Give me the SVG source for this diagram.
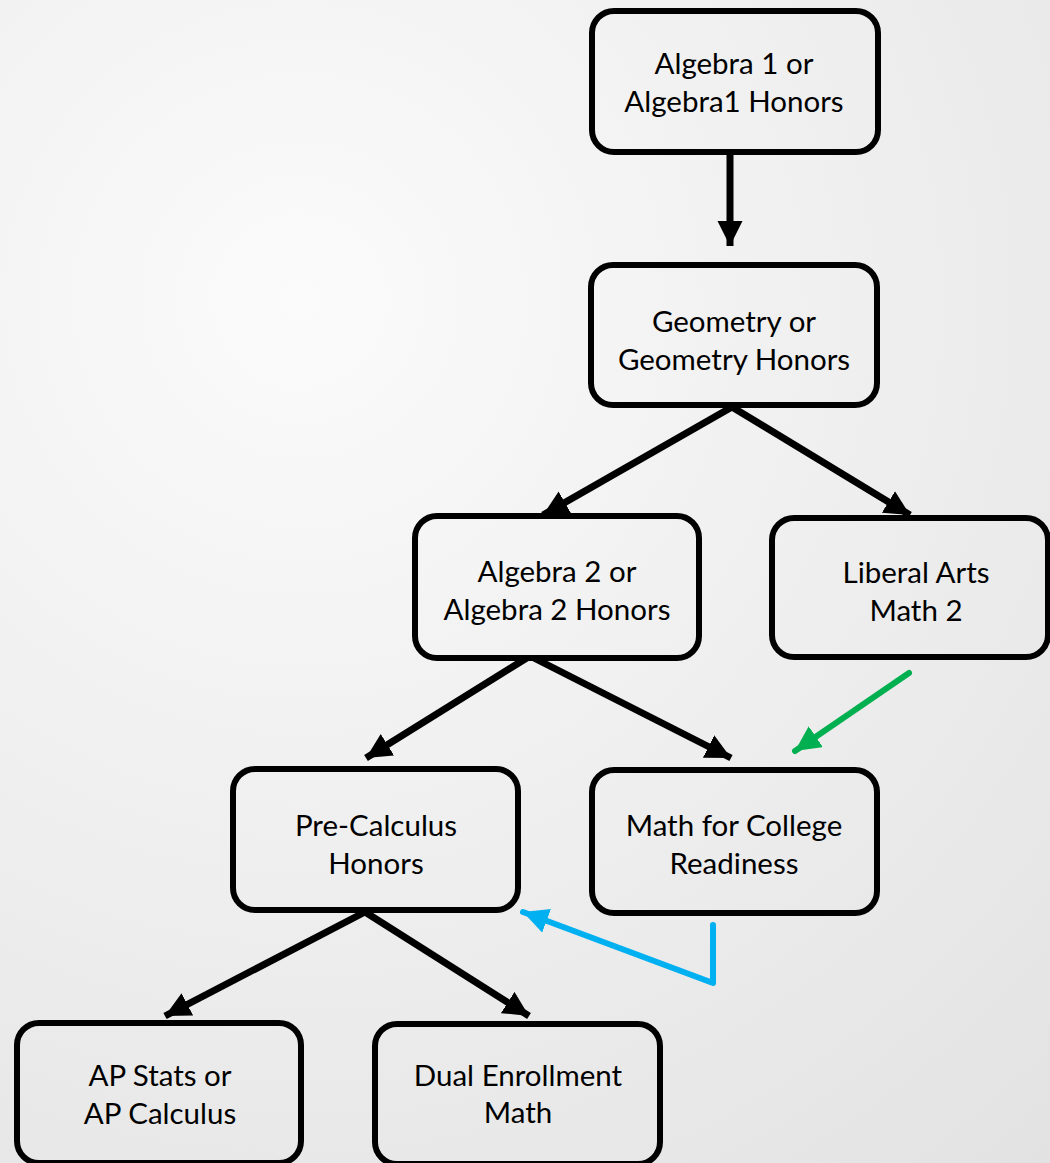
<svg xmlns="http://www.w3.org/2000/svg" width="1050" height="1163" viewBox="0 0 1050 1163">
<defs>
<radialGradient id="bg" gradientUnits="userSpaceOnUse" cx="300" cy="300" r="1200">
<stop offset="0" stop-color="#fbfbfb"/>
<stop offset="1" stop-color="#e1e1e1"/>
</radialGradient>
<marker id="ah" viewBox="0 0 10 10" refX="10" refY="5" markerWidth="3.6" markerHeight="3.8" orient="auto" markerUnits="strokeWidth">
<path d="M0,0 L10,5 L0,10 Z" fill="#000"/>
</marker>
<marker id="ahg" viewBox="0 0 10 10" refX="10" refY="5" markerWidth="4.2" markerHeight="4.2" orient="auto" markerUnits="strokeWidth">
<path d="M0,0 L10,5 L0,10 Z" fill="#00b050"/>
</marker>
<marker id="ahb" viewBox="0 0 10 10" refX="10" refY="5" markerWidth="4.2" markerHeight="4.2" orient="auto" markerUnits="strokeWidth">
<path d="M0,0 L10,5 L0,10 Z" fill="#00b0f0"/>
</marker>
</defs>
<style>
.box{fill:url(#bg);stroke:#000;stroke-width:6}
.lbl{font-family:Lato,"Open Sans","Liberation Sans",sans-serif;font-size:29.5px;fill:#000;text-anchor:middle}
.k{stroke:#000;stroke-width:7;fill:none;marker-end:url(#ah)}
.g{stroke:#00b050;stroke-width:6;fill:none;stroke-linecap:round;marker-end:url(#ahg)}
.b{stroke:#00b0f0;stroke-width:6;fill:none;stroke-linecap:round;stroke-linejoin:round;marker-end:url(#ahb)}
</style>
<rect x="0" y="0" width="1050" height="1163" fill="url(#bg)"/>
<g id="connectors">
<line class="k" x1="730" y1="155" x2="730" y2="246"/>
<line class="k" x1="732" y1="407" x2="543" y2="515"/>
<line class="k" x1="732" y1="407" x2="910" y2="515"/>
<line class="k" x1="530" y1="656" x2="366" y2="758"/>
<line class="k" x1="530" y1="656" x2="731" y2="758"/>
<line class="k" x1="365" y1="912" x2="165" y2="1016"/>
<line class="k" x1="365" y1="912" x2="529" y2="1016"/>
<line class="g" x1="909" y1="673" x2="795" y2="751"/>
<polyline class="b" points="713,925 713,983 523,912"/>
</g>
<g id="n-algebra1">
<rect class="box" x="592" y="11" width="286" height="141" rx="22"/>
<text class="lbl" x="734" y="74">Algebra 1 or</text>
<text class="lbl" x="734" y="112">Algebra1 Honors</text>
</g>
<g id="n-geometry">
<rect class="box" x="591" y="265" width="286" height="140" rx="22"/>
<text class="lbl" x="734" y="332">Geometry or</text>
<text class="lbl" x="734" y="370">Geometry Honors</text>
</g>
<g id="n-algebra2">
<rect class="box" x="415" y="516" width="284" height="142" rx="22"/>
<text class="lbl" x="557" y="582">Algebra 2 or</text>
<text class="lbl" x="557" y="620">Algebra 2 Honors</text>
</g>
<g id="n-liberal">
<rect class="box" x="772" y="518" width="276" height="139" rx="22"/>
<text class="lbl" x="916" y="583">Liberal Arts</text>
<text class="lbl" x="916" y="621">Math 2</text>
</g>
<g id="n-precalc">
<rect class="box" x="233" y="769" width="285" height="141" rx="22"/>
<text class="lbl" x="376" y="836">Pre-Calculus</text>
<text class="lbl" x="376" y="874">Honors</text>
</g>
<g id="n-mcr">
<rect class="box" x="592" y="770" width="285" height="143" rx="22"/>
<text class="lbl" x="734" y="836">Math for College</text>
<text class="lbl" x="734" y="874">Readiness</text>
</g>
<g id="n-ap">
<rect class="box" x="17" y="1023" width="284" height="140" rx="22"/>
<text class="lbl" x="160" y="1086">AP Stats or</text>
<text class="lbl" x="160" y="1124">AP Calculus</text>
</g>
<g id="n-dual">
<rect class="box" x="375" y="1024" width="285" height="140" rx="22"/>
<text class="lbl" x="518" y="1086">Dual Enrollment</text>
<text class="lbl" x="518" y="1123">Math</text>
</g>
</svg>
